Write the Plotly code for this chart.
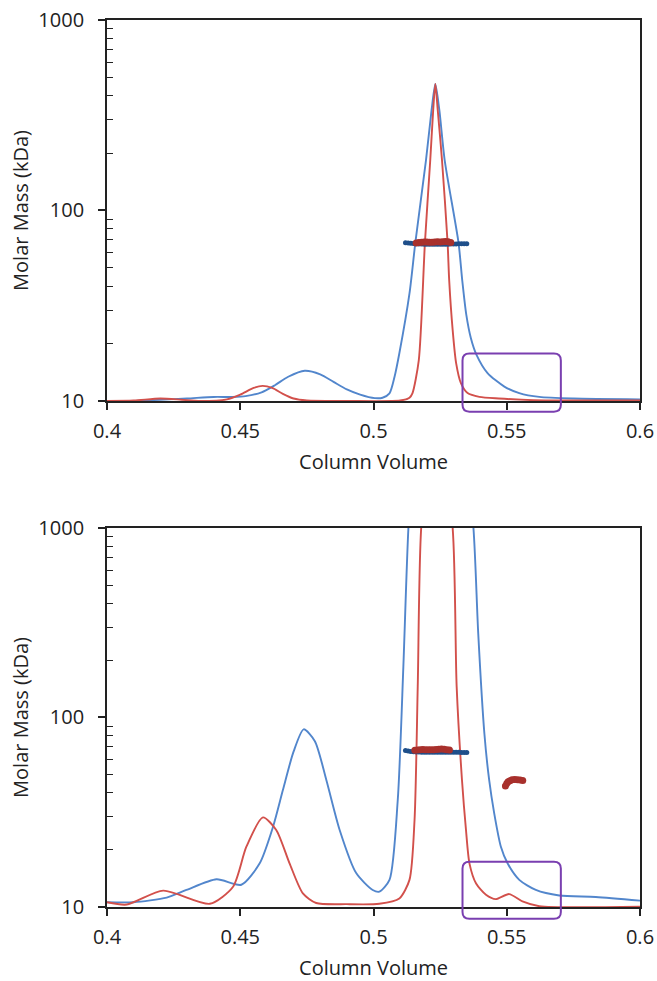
import plotly.graph_objects as go

# ---- top panel (normalised traces) ----
top_blue_x = [0.400, 0.410, 0.420, 0.430, 0.440, 0.447, 0.452, 0.458, 0.463, 0.468, 0.4742, 0.480,
              0.485, 0.490, 0.495, 0.5005, 0.5034, 0.506, 0.5079, 0.5097, 0.5135, 0.5157, 0.5197,
              0.5218, 0.5232, 0.5247, 0.5267, 0.5319, 0.5333, 0.5348, 0.5365, 0.5387, 0.5428,
              0.5491, 0.5547, 0.5622, 0.575, 0.600]
top_blue_y = [10.0, 10.0, 10.15, 10.3, 10.5, 10.5, 10.6, 11.1, 12.1, 13.4, 14.4, 13.8,
              12.6, 11.5, 10.8, 10.35, 10.4, 10.96, 13.4, 17.8, 36.7, 67.8, 184,
              337, 461, 337, 184, 67.8, 43, 28.5, 21.5, 17.4, 14.0,
              11.9, 11.0, 10.5, 10.3, 10.2]

top_red_x = [0.400, 0.410, 0.420, 0.428, 0.435, 0.445, 0.450, 0.455, 0.4584, 0.462, 0.466, 0.470,
             0.475, 0.490, 0.510, 0.5135, 0.5146, 0.5170, 0.5193, 0.5213, 0.5224, 0.5232, 0.5241,
             0.5257, 0.5278, 0.5284, 0.5297, 0.531, 0.5328, 0.5353, 0.5397, 0.547, 0.560, 0.600]
top_red_y = [10.0, 10.05, 10.3, 10.15, 10.0, 10.2, 10.8, 11.7, 12.0, 11.7, 10.9, 10.3,
             10.05, 10.0, 10.05, 10.4, 10.96, 16.4, 67.8, 184, 337, 461, 337,
             184, 67.8, 43, 23.6, 15.8, 12.4, 11.0, 10.5, 10.3, 10.1, 10.05]

top_blue_mass_x = [0.512, 0.513, 0.514, 0.515, 0.516, 0.517, 0.518, 0.519, 0.520, 0.521, 0.522, 0.523,
                   0.524, 0.525, 0.526, 0.527, 0.528, 0.529, 0.530, 0.531, 0.532, 0.533, 0.534, 0.535]
top_blue_mass_y = [67.8, 67.5, 67.2, 67.0, 66.8, 66.7, 66.6, 66.5, 66.5, 66.4, 66.4, 66.4,
                   66.4, 66.4, 66.4, 66.5, 66.5, 66.6, 66.6, 66.7, 66.8, 66.8, 66.9, 66.9]
top_red_mass_x = [0.516, 0.517, 0.518, 0.519, 0.520, 0.521, 0.522, 0.523, 0.524, 0.525, 0.526, 0.527,
                  0.528, 0.529]
top_red_mass_y = [67.6, 68.0, 68.2, 68.4, 68.3, 68.2, 68.1, 68.3, 68.5, 68.4, 68.6, 68.8, 68.5, 68.0]

# ---- bottom panel (zoomed traces) ----
bot_blue_x = [0.400, 0.4099, 0.4224, 0.4298, 0.4411, 0.4504, 0.4573, 0.4623, 0.466, 0.470, 0.4738,
              0.478, 0.4823, 0.4873, 0.4935, 0.4997, 0.5022, 0.506, 0.5091, 0.5112, 0.5131, 0.516,
              0.5235, 0.533, 0.5375, 0.5393, 0.5416, 0.5434, 0.5453, 0.5478, 0.5503, 0.5547,
              0.5609, 0.5697, 0.5834, 0.600]
bot_blue_y = [10.6, 10.6, 11.2, 12.3, 14.0, 13.1, 17.0, 26.5, 41.4, 66, 86.6,
              75, 46.8, 25.5, 15.1, 12.3, 12.05, 13.9, 36.7, 185, 1000, 4000,
              8000, 4000, 1000, 278, 82.6, 46.8, 31.2, 20.8, 17.0, 13.9,
              12.3, 11.5, 11.3, 10.8]

bot_red_x = [0.400, 0.4074, 0.4211, 0.4386, 0.4473, 0.4523, 0.4585, 0.4635, 0.4685, 0.4735, 0.4785,
             0.490, 0.5022, 0.5097, 0.5135, 0.5154, 0.5166, 0.5179, 0.5232, 0.5297, 0.5312, 0.5332,
             0.5347, 0.536, 0.5385, 0.5422, 0.5459, 0.5509, 0.5559, 0.5622, 0.600]
bot_red_y = [10.6, 10.3, 12.2, 10.4, 12.8, 20.8, 29.7, 25.5, 17.0, 11.8, 10.5,
             10.35, 10.4, 11.1, 13.9, 28.8, 146, 1000, 5000, 1000, 146, 46.8,
             25.5, 17.0, 13.3, 11.6, 11.0, 11.7, 10.7, 10.1, 10.05]

bot_blue_mass_x = top_blue_mass_x
bot_blue_mass_y = [66.9, 66.5, 66.2, 65.9, 65.8, 65.7, 65.6, 65.6, 65.6, 65.6, 65.6, 65.6,
                   65.6, 65.6, 65.6, 65.6, 65.6, 65.6, 65.5, 65.5, 65.5, 65.4, 65.3, 65.3]
bot_red_mass_x = [0.5155, 0.5165, 0.5175, 0.5185, 0.5195, 0.5205, 0.5215, 0.5225, 0.5235, 0.5245,
                  0.5255, 0.5265, 0.5275, 0.5285]
bot_red_mass_y = [67.2, 67.4, 67.6, 67.7, 67.6, 67.6, 67.5, 67.6, 67.8, 68.0, 68.1, 68.0, 67.6, 67.3]
bot_red_mass2_x = [0.5495, 0.5500, 0.5505, 0.5512, 0.5520, 0.5530, 0.5540, 0.5550, 0.5560]
bot_red_mass2_y = [43.5, 44.8, 45.8, 46.4, 46.9, 47.1, 47.0, 46.8, 46.5]

BLUE = "#5286cc"
RED = "#d2504b"
DBLUE = "#1f4f8a"
DRED = "#a8302c"
PURPLE = "#7a3fb0"
FONT = "Open Sans"

fig = go.Figure()


def add_panel(n, bx, by, rx, ry, bmx, bmy, rmx, rmy):
    xa, ya = ("x", "y") if n == 1 else ("x%d" % n, "y%d" % n)
    fig.add_trace(go.Scatter(x=bx, y=by, mode="lines",
                             line=dict(color=BLUE, width=1.9, shape="spline", smoothing=0.7),
                             xaxis=xa, yaxis=ya, showlegend=False))
    fig.add_trace(go.Scatter(x=rx, y=ry, mode="lines",
                             line=dict(color=RED, width=1.9, shape="spline", smoothing=0.7),
                             xaxis=xa, yaxis=ya, showlegend=False))
    fig.add_trace(go.Scatter(x=bmx, y=bmy, mode="markers", marker=dict(color=DBLUE, size=5),
                             xaxis=xa, yaxis=ya, showlegend=False))
    fig.add_trace(go.Scatter(x=rmx, y=rmy, mode="markers", marker=dict(color=DRED, size=7),
                             xaxis=xa, yaxis=ya, showlegend=False))


add_panel(1, top_blue_x, top_blue_y, top_red_x, top_red_y,
          top_blue_mass_x, top_blue_mass_y, top_red_mass_x, top_red_mass_y)
add_panel(2, bot_blue_x, bot_blue_y, bot_red_x, bot_red_y,
          bot_blue_mass_x, bot_blue_mass_y, bot_red_mass_x, bot_red_mass_y)
fig.add_trace(go.Scatter(x=bot_red_mass2_x, y=bot_red_mass2_y, mode="markers",
                         marker=dict(color=DRED, size=7), xaxis="x2", yaxis="y2", showlegend=False))


def box_path(x0, x1, y0, y1, rx=0.013, ry=0.018):
    return (f"M {x0+rx},{y0} L {x1-rx},{y0} Q {x1},{y0} {x1},{y0+ry} "
            f"L {x1},{y1-ry} Q {x1},{y1} {x1-rx},{y1} L {x0+rx},{y1} "
            f"Q {x0},{y1} {x0},{y1-ry} L {x0},{y0+ry} Q {x0},{y0} {x0+rx},{y0} Z")


fig.add_shape(type="path", xref="x domain", yref="y domain",
              path=box_path(0.667, 0.8515, -0.028, 0.1245), line=dict(color=PURPLE, width=2))
fig.add_shape(type="path", xref="x2 domain", yref="y2 domain",
              path=box_path(0.667, 0.8515, -0.031, 0.1195), line=dict(color=PURPLE, width=2))

xcommon = dict(range=[0.4, 0.6], tickvals=[0.4, 0.45, 0.5, 0.55, 0.6],
               ticktext=["0.4", "0.45", "0.5", "0.55", "0.6"], automargin=False,
               ticks="outside", ticklen=7, tickwidth=1.5, tickcolor="#222",
               ticklabelstandoff=4, ticklabeloverflow="allow",
               showline=True, linecolor="#222", linewidth=1.8, mirror=True,
               showgrid=False, zeroline=False,
               tickfont=dict(family=FONT, size=20, color="#222"),
               title=dict(text="Column Volume", font=dict(family=FONT, size=20, color="#222"),
                          standoff=12))
ycommon = dict(type="log", range=[1, 3], tickvals=[10, 100, 1000], ticktext=["10", "100", "1000"],
               automargin=False,
               ticks="outside", ticklen=7, tickwidth=1.5, tickcolor="#222",
               ticklabelstandoff=10, ticklabeloverflow="allow",
               minor=dict(ticks="inside", ticklen=6, tickwidth=1.3, tickcolor="#222",
                          tickvals=[20, 30, 40, 50, 60, 70, 80, 90, 200, 300, 400, 500, 600, 700, 800, 900],
                          showgrid=False),
               showline=True, linecolor="#222", linewidth=1.8, mirror=True,
               showgrid=False, zeroline=False,
               tickfont=dict(family=FONT, size=20, color="#222"),
               title=dict(text="Molar Mass (kDa)", font=dict(family=FONT, size=20, color="#222"),
                          standoff=4))

fig.update_layout(
    width=657, height=981,
    margin=dict(l=107, r=17, t=20, b=74),
    paper_bgcolor="white", plot_bgcolor="white",
    xaxis=dict(xcommon, anchor="y"),
    yaxis=dict(ycommon, domain=[0.5705, 1.0], anchor="x"),
    xaxis2=dict(xcommon, anchor="y2"),
    yaxis2=dict(ycommon, domain=[0.0, 0.4273], anchor="x2"),
)

# drop the default body margin so the figure fills the window exactly
fig.write_html("out.html", config={"displayModeBar": False},
               post_script="document.body.style.margin='0px';")
